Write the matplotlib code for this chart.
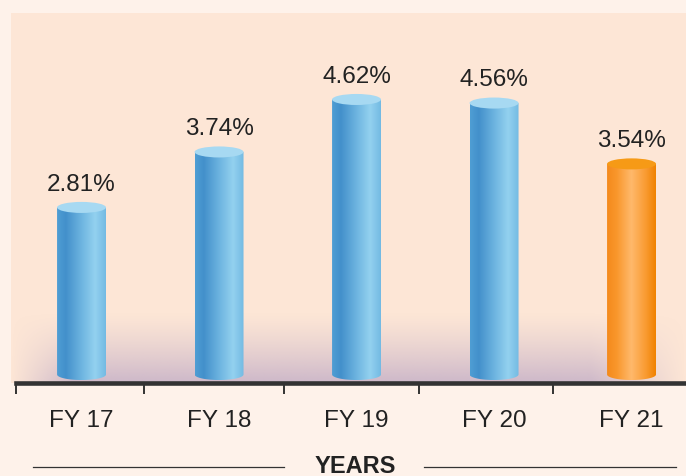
import numpy as np
import matplotlib.pyplot as plt
from matplotlib.colors import LinearSegmentedColormap
from matplotlib.patches import Ellipse, PathPatch
from matplotlib.path import Path

plt.rcParams['font.family'] = ['Liberation Sans', 'DejaVu Sans']

# data
years = ['FY 17', 'FY 18', 'FY 19', 'FY 20', 'FY 21']
values = [2.81, 3.74, 4.62, 4.56, 3.54]
labels = ['2.81%', '3.74%', '4.62%', '4.56%', '3.54%']
highlight = [False, False, False, False, True]

# style
outer_bg = '#fef2ea'
panel_bg = '#fde6d6'
bar_w = 0.356
ell_h = 0.185
bar_bottom = -0.084
tick_pos = [-0.476, 0.451, 1.469, 2.455, 3.43]

blue_cmap = LinearSegmentedColormap.from_list('blue', [
    (0.0, '#4f9ed4'), (0.18, '#4390cb'), (0.5, '#6db4e0'),
    (0.78, '#93d1ef'), (1.0, '#73bae3')])
orange_cmap = LinearSegmentedColormap.from_list('orange', [
    (0.0, '#f48a1c'), (0.2, '#f9972c'), (0.5, '#ffb96c'),
    (0.8, '#f99a30'), (1.0, '#f08200')])
blue_top = '#a7d9f2'
orange_top = '#f69a16'

fig = plt.figure(figsize=(6.86, 4.77), dpi=100, facecolor=outer_bg)
ax = fig.add_axes([11 / 686, (477 - 384) / 477, 675 / 686, 370 / 477])
ax.set_facecolor(panel_bg)

# purple haze near the baseline
H, W = 200, 400
yy = np.linspace(0, 1, H)[:, None]
xx = np.linspace(0, 1, W)[None, :]
a_y = np.clip(1 - yy / 0.19, 0, 1) ** 1.3
a_x = np.clip(xx / 0.09, 0, 1) * np.clip((1 - xx) / 0.14, 0, 1)
haze = np.zeros((H, W, 4))
haze[..., 0] = 180 / 255
haze[..., 1] = 160 / 255
haze[..., 2] = 195 / 255
haze[..., 3] = 0.65 * a_y * a_x
ax.imshow(haze, extent=[0, 1, 0, 1], transform=ax.transAxes, origin='lower',
          aspect='auto', zorder=0.5, interpolation='bilinear')

grad = np.linspace(0, 1, 256).reshape(1, -1)
for i, v in enumerate(values):
    x0, x1 = i - bar_w / 2, i + bar_w / 2
    yc = bar_bottom + ell_h / 2
    # cylinder body: straight sides with a rounded (half ellipse) bottom
    t = np.linspace(np.pi, 2 * np.pi, 50)
    arc = list(zip(i + bar_w / 2 * np.cos(t), yc + ell_h / 2 * np.sin(t)))
    verts = [(x0, v)] + arc + [(x1, v), (x0, v)]
    codes = [Path.MOVETO] + [Path.LINETO] * (len(verts) - 2) + [Path.CLOSEPOLY]
    body = PathPatch(Path(verts, codes), facecolor='none', edgecolor='none')
    ax.add_patch(body)
    cmap = orange_cmap if highlight[i] else blue_cmap
    im = ax.imshow(grad, cmap=cmap, extent=[x0, x1, bar_bottom, v],
                   aspect='auto', zorder=2, interpolation='bilinear')
    im.set_clip_path(body)
    ax.add_patch(Ellipse((i, v), bar_w, ell_h, facecolor=orange_top if highlight[i] else blue_top,
                         edgecolor='none', zorder=3))
    ax.annotate(labels[i], (i, v), xytext=(0, 17), textcoords='offset points',
                ha='center', va='center', fontsize=17.5, color='#222222')

ax.set_xlim(-0.513, 4.396)
ax.set_ylim(-0.134, 6.07)

for s in ['top', 'left', 'right']:
    ax.spines[s].set_visible(False)
ax.spines['bottom'].set_linewidth(3.3)
ax.spines['bottom'].set_color('#333333')
ax.spines['bottom'].set_bounds(tick_pos[0], 4.396)
ax.spines['bottom'].set_zorder(4)
ax.set_yticks([])
ax.set_xticks(tick_pos)
ax.set_xticklabels([])
ax.tick_params(axis='x', length=8, width=1.4, color='#333333', direction='out')

for i, name in enumerate(years):
    ax.text(i, -0.1, name, transform=ax.get_xaxis_transform(), ha='center', va='center',
            fontsize=17.5, color='#222222')

# axis title with rules on both sides
fig.text(355 / 686, 0.008, 'YEARS', ha='center', va='baseline', fontsize=17,
         fontweight='bold', color='#222222')
y_rule = (477 - 468) / 477
fig.add_artist(plt.Line2D([33 / 686, 284 / 686], [y_rule, y_rule], color='#333333', linewidth=0.9))
fig.add_artist(plt.Line2D([424 / 686, 676 / 686], [y_rule, y_rule], color='#333333', linewidth=0.9))

fig.savefig('out.png', dpi=100, facecolor=outer_bg)
